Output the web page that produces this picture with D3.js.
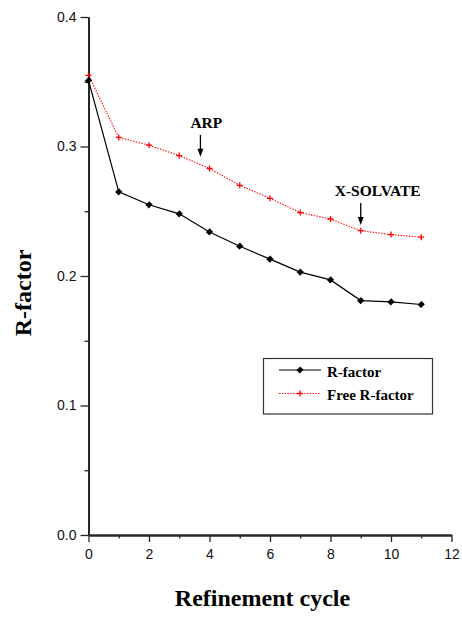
<!DOCTYPE html>
<html>
<head>
<meta charset="utf-8">
<script src="https://cdn.jsdelivr.net/npm/d3@7"></script>
<style>
  html, body { margin: 0; padding: 0; background: #fff; }
  svg { display: block; }
</style>
</head>
<body>
<svg id="chart" width="462" height="617"></svg>
<script>
// Refinement cycles and R-factor values per cycle
const cycles = [0, 1, 2, 3, 4, 5, 6, 7, 8, 9, 10, 11];
const rFactor = [0.351, 0.265, 0.255, 0.248, 0.234, 0.223, 0.213, 0.203, 0.197, 0.181, 0.180, 0.178];
const freeRFactor = [0.355, 0.307, 0.301, 0.293, 0.283, 0.270, 0.260, 0.249, 0.244, 0.235, 0.232, 0.230];

const xTicks = [0, 2, 4, 6, 8, 10, 12];
const xMinorTicks = [1, 3, 5, 7, 9, 11];
const yTicks = [0.0, 0.1, 0.2, 0.3, 0.4];
const yMinorTicks = [0.05, 0.15, 0.25, 0.35];

const seriesNames = ["R-factor", "Free R-factor"];
const xTitle = "Refinement cycle";
const yTitle = "R-factor";

// Arrow annotations: label, cycle position, value where the arrow tip stops
const annotationLabels = ["ARP", "X-SOLVATE"];
const annotationCycles = [3.7, 9];
const annotationTips = [0.292, 0.2394];

const svg = d3.select("#chart");
const serif = "'Liberation Serif', 'Times New Roman', serif";
const sans = "'Liberation Sans', Arial, Helvetica, sans-serif";

const x = d3.scaleLinear().domain([0, 12]).range([88.5, 451.5]);
const y = d3.scaleLinear().domain([0, 0.4]).range([535, 17]);

// Axes
function styleAxis(g) {
  g.selectAll("path.domain").attr("stroke", "#262626").attr("stroke-width", 2);
  g.selectAll(".tick line").attr("stroke", "#262626").attr("stroke-width", 1.3);
  g.selectAll(".tick text").attr("fill", "#111").style("font-family", sans).style("font-size", "14px");
}

svg.append("g")
  .attr("transform", `translate(0,${y(0)})`)
  .call(d3.axisBottom(x).tickValues(xMinorTicks).tickSize(3.5).tickSizeOuter(0).tickFormat(""))
  .call(styleAxis);
svg.append("g")
  .attr("transform", `translate(0,${y(0)})`)
  .call(d3.axisBottom(x).tickValues(xTicks).tickSize(7).tickPadding(7).tickSizeOuter(0).tickFormat(d3.format("d")))
  .call(styleAxis);

svg.append("g")
  .attr("transform", `translate(${x(0)},0)`)
  .call(d3.axisLeft(y).tickValues(yMinorTicks).tickSize(4).tickSizeOuter(0).tickFormat(""))
  .call(styleAxis);
svg.append("g")
  .attr("transform", `translate(${x(0)},0)`)
  .call(d3.axisLeft(y).tickValues(yTicks).tickSize(8).tickPadding(4).tickSizeOuter(0).tickFormat(d3.format(".1f")))
  .call(styleAxis);

// Axis titles
svg.append("text")
  .attr("x", (x(0) + x(12)) / 2 - 7.5)
  .attr("y", 606)
  .attr("text-anchor", "middle")
  .style("font-family", serif).style("font-weight", "bold").style("font-size", "24px")
  .text(xTitle);

svg.append("text")
  .attr("transform", `translate(31,${(y(0) + y(0.4)) / 2 + 17}) rotate(-90)`)
  .attr("text-anchor", "middle")
  .style("font-family", serif).style("font-weight", "bold").style("font-size", "24px")
  .text(yTitle);

// Marker shapes
const diamondPath = d3.symbol().type(d3.symbolSquare).size(26)();
const plusSymbol = {
  draw(ctx, size) {
    const r = Math.sqrt(size) / 2;
    ctx.moveTo(-r, 0); ctx.lineTo(r, 0);
    ctx.moveTo(0, -r); ctx.lineTo(0, r);
  }
};
const plusPath = d3.symbol().type(plusSymbol).size(36)();

const line = d3.line().x((d, i) => x(cycles[i])).y(d => y(d));

// Free R-factor: red dotted line with plus markers
svg.append("path")
  .datum(freeRFactor)
  .attr("d", line)
  .attr("fill", "none")
  .attr("stroke", "#ff0000")
  .attr("stroke-width", 1.1)
  .attr("stroke-dasharray", "1.4,1.4");
svg.append("g").selectAll("path")
  .data(freeRFactor)
  .join("path")
  .attr("transform", (d, i) => `translate(${x(cycles[i])},${y(d)})`)
  .attr("d", plusPath)
  .attr("fill", "none")
  .attr("stroke", "#ff0000")
  .attr("stroke-width", 1.3);

// R-factor: black solid line with diamond markers
svg.append("path")
  .datum(rFactor)
  .attr("d", line)
  .attr("fill", "none")
  .attr("stroke", "#000")
  .attr("stroke-width", 1.2);
svg.append("g").selectAll("path")
  .data(rFactor)
  .join("path")
  .attr("transform", (d, i) => `translate(${x(cycles[i])},${y(d)}) rotate(45) scale(0.95,1.05)`)
  .attr("d", diamondPath)
  .attr("fill", "#000");

// Annotations with downward arrows
annotationLabels.forEach((label, i) => {
  const ax = x(annotationCycles[i]);
  const tipY = y(annotationTips[i]);
  const g = svg.append("g");
  g.append("line")
    .attr("x1", ax).attr("x2", ax)
    .attr("y1", tipY - 22).attr("y2", tipY - 6)
    .attr("stroke", "#000").attr("stroke-width", 1.3);
  g.append("path")
    .attr("d", `M${ax - 3},${tipY - 8} L${ax + 3},${tipY - 8} L${ax},${tipY} Z`)
    .attr("fill", "#000");
  g.append("text")
    .attr("x", i === 0 ? ax - 10 : ax - 26)
    .attr("y", tipY - 29)
    .style("font-family", serif).style("font-weight", "bold").style("font-size", "15.5px")
    .text(label);
});

// Legend
const legend = svg.append("g");
legend.append("rect")
  .attr("x", 263.5).attr("y", 358.5).attr("width", 169).attr("height", 55.5)
  .attr("fill", "#fff").attr("stroke", "#333").attr("stroke-width", 1.2);

const legendRows = [370, 393.5];
legend.append("line")
  .attr("x1", 279).attr("x2", 321).attr("y1", legendRows[0]).attr("y2", legendRows[0])
  .attr("stroke", "#000").attr("stroke-width", 1.2);
legend.append("path")
  .attr("transform", `translate(300,${legendRows[0]}) rotate(45) scale(0.95,1.05)`)
  .attr("d", diamondPath).attr("fill", "#000");
legend.append("line")
  .attr("x1", 279).attr("x2", 321).attr("y1", legendRows[1]).attr("y2", legendRows[1])
  .attr("stroke", "#ff0000").attr("stroke-width", 1.1).attr("stroke-dasharray", "1.4,1.4");
legend.append("path")
  .attr("transform", `translate(300,${legendRows[1]})`)
  .attr("d", plusPath).attr("fill", "none").attr("stroke", "#ff0000").attr("stroke-width", 1.3);

seriesNames.forEach((name, i) => {
  legend.append("text")
    .attr("x", 327).attr("y", legendRows[i] + 6.5)
    .style("font-family", serif).style("font-weight", "bold").style("font-size", "15px")
    .text(name);
});
</script>
</body>
</html>
